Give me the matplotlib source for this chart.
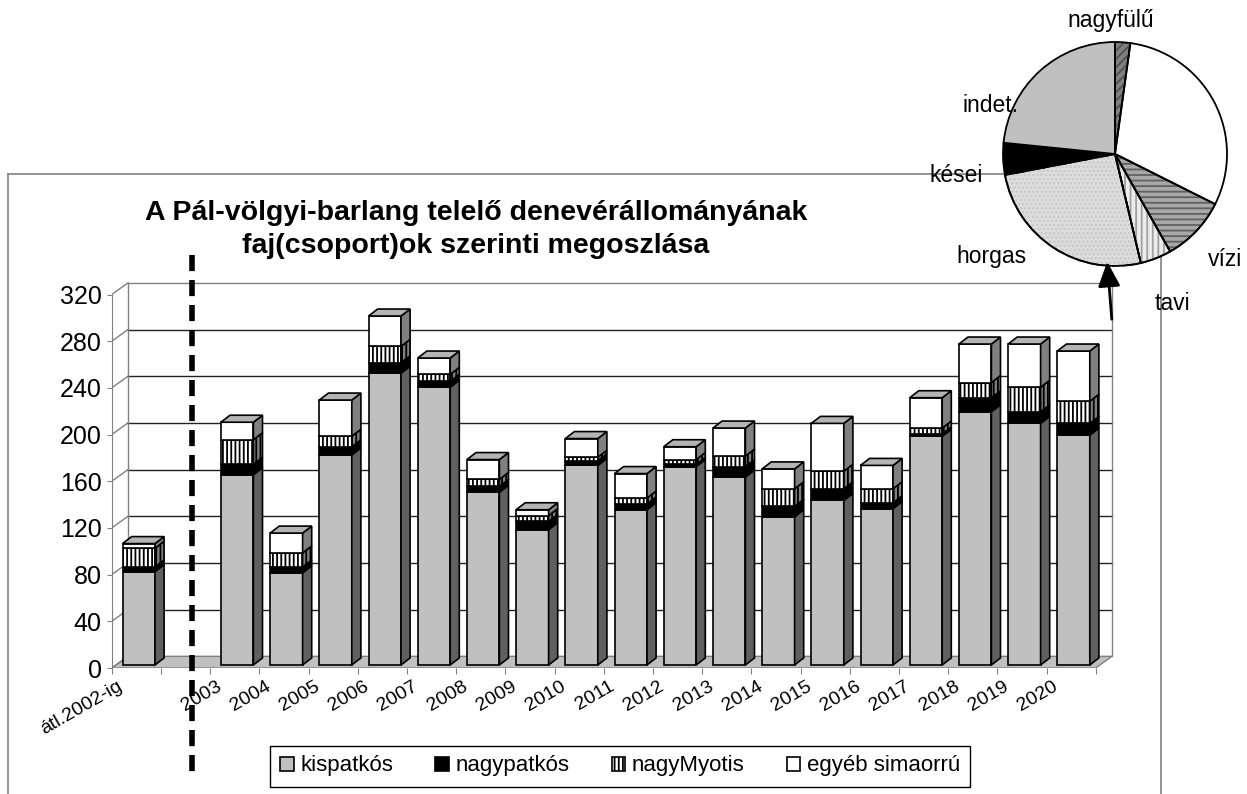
import matplotlib.pyplot as plt
import matplotlib.transforms as mtransforms
from matplotlib.patches import Polygon, Wedge, FancyArrowPatch
from matplotlib.lines import Line2D

plt.rcParams['font.family'] = ['Liberation Sans', 'DejaVu Sans']
plt.rcParams['hatch.linewidth'] = 1.3

# adatok (leolvasva az abrarol)
categories = ['átl.2002-ig', '2003', '2004', '2005', '2006', '2007', '2008', '2009',
              '2010', '2011', '2012', '2013', '2014', '2015', '2016', '2017',
              '2018', '2019', '2020']
kispatkos = [80, 163, 79, 180, 250, 238, 148, 116, 171, 133, 170, 161, 127, 141, 134, 196, 217, 207, 197]
nagypatkos = [4, 9, 5, 7, 9, 5, 5, 7, 4, 5, 2, 9, 9, 10, 5, 2, 12, 10, 10]
nagymyotis = [16, 21, 12, 9, 14, 6, 6, 5, 3, 5, 4, 9, 15, 15, 12, 5, 13, 21, 19]
egyeb = [4, 15, 17, 31, 26, 14, 17, 5, 16, 21, 11, 24, 17, 41, 20, 26, 33, 37, 43]
series_names = ['kispatkós', 'nagypatkós', 'nagyMyotis', 'egyéb simaorrú']
yticks = list(range(0, 321, 40))

pie_labels = ['nagyfülű', '', 'vízi', 'tavi', 'horgas', 'kései', 'indet.']
pie_values = [2.2, 30.2, 9.4, 4.5, 25.7, 4.6, 23.4]

W, H = 1247, 794
fig = plt.figure(figsize=(W / 100, H / 100), dpi=100)


def fx(x):
    return x / W


def fy(y):
    return 1 - y / H


# fo diagram: (0,0) a bal elso sarok
X0, Y0 = 111.7, 668
SX, SY = 49.2, 1.167
XMAX, YMAX = 20.4, 331
ax = fig.add_axes([fx(X0), fy(Y0), XMAX * SX / W, YMAX * SY / H])
ax.set_xlim(0, XMAX)
ax.set_ylim(0, YMAX)
ax.patch.set_visible(False)
for s in ['top', 'right', 'bottom']:
    ax.spines[s].set_visible(False)
ax.spines['left'].set_bounds(0, 320)
ax.spines['left'].set_color('#808080')
ax.set_yticks(yticks)
ax.tick_params(axis='y', labelsize=18, length=3.6, color='#808080', pad=3.6)
ax.set_xticks(range(0, 21))
ax.set_xticklabels([])
ax.tick_params(axis='x', length=4.3, color='#808080')

# hatfal es padlo
WDX, WDY = 0.33, 10
ax.add_patch(Polygon([(0, 0), (20, 0), (20 + WDX, WDY), (WDX, WDY)], closed=True,
                     fc='#c0c0c0', ec='#808080', lw=1, zorder=0.4))
for v in yticks:
    ax.plot([0, WDX], [v, v + WDY], color='#808080', lw=1, zorder=0.5)
    if v > 0:
        c = '#808080' if v == 320 else '#222222'
        ax.plot([WDX, 20 + WDX], [v + WDY, v + WDY], color=c, lw=1, zorder=0.5)
ax.plot([WDX, WDX], [WDY, 320 + WDY], color='#808080', lw=1, zorder=0.5)
ax.plot([20 + WDX, 20 + WDX], [WDY, 320 + WDY], color='#808080', lw=1, zorder=0.5)

# oszlopok
pos = [0] + list(range(2, 20))
BW, BDX, BDY, BASE = 0.66, 0.185, 6, 2.6
x_left = [p + 0.22 for p in pos]
styles = [('#c0c0c0', None, '#606060'), ('black', None, 'black'),
          ('white', '||||', '#808080'), ('white', None, '#808080')]
bottom = [BASE] * len(categories)
handles = []
for vals, name, (fc, hatch, side) in zip([kispatkos, nagypatkos, nagymyotis, egyeb], series_names, styles):
    bars = ax.bar(x_left, vals, width=BW, bottom=bottom, align='edge', color=fc,
                  hatch=hatch, edgecolor='black', lw=1.2, zorder=3, label=name)
    handles.append(bars)
    for xl, b, v in zip(x_left, bottom, vals):
        xr = xl + BW
        ax.add_patch(Polygon([(xr, b), (xr + BDX, b + BDY), (xr + BDX, b + v + BDY), (xr, b + v)],
                             closed=True, fc=side, hatch=hatch, ec='black', lw=1.2, zorder=3))
    bottom = [b + v for b, v in zip(bottom, vals)]
for xl, t in zip(x_left, bottom):
    ax.add_patch(Polygon([(xl, t), (xl + BW, t), (xl + BW + BDX, t + BDY), (xl + BDX, t + BDY)],
                         closed=True, fc='#b4b4b4', ec='black', lw=1.2, zorder=3))

# x feliratok
off = mtransforms.ScaledTranslation(-0.19, -0.10, fig.dpi_scale_trans)
for p, lab in zip(pos, categories):
    ax.text(p + 0.5, 0, lab, transform=ax.transData + off, rotation=30,
            rotation_mode='anchor', ha='right', va='top', fontsize=14, clip_on=False)

# cim
fig.text(fx(476), fy(213), 'A Pál-völgyi-barlang telelő denevérállományának',
         ha='center', va='center', fontsize=20.5, fontweight='bold')
fig.text(fx(476), fy(246), 'faj(csoport)ok szerinti megoszlása',
         ha='center', va='center', fontsize=20.5, fontweight='bold')

# jelmagyarazat
leg = fig.legend(handles=handles, labels=series_names, loc='center',
                 bbox_to_anchor=(fx(620), fy(766)), ncol=4, fontsize=16,
                 frameon=True, fancybox=False, edgecolor='black', framealpha=1,
                 handlelength=0.6, handleheight=0.6, handletextpad=0.3,
                 columnspacing=1.9, borderpad=0.45)
leg.get_frame().set_linewidth(1)

# diagram kerete
for xs, ys in [([8, 8], [794, 174]), ([8, 1161], [174, 174]), ([1161, 1161], [174, 794])]:
    fig.add_artist(Line2D([fx(x) for x in xs], [fy(y) for y in ys], transform=fig.transFigure,
                          color='#808080', lw=1.2, zorder=1))

# szaggatott vonal
fig.add_artist(Line2D([fx(191.7), fx(191.7)], [fy(255), fy(775)], transform=fig.transFigure,
                      color='black', lw=4, linestyle=(0, (2.9, 1.6)), zorder=5))

# kordiagram
R = 112
pax = fig.add_axes([fx(1115 - R), fy(154 + R), 2 * R / W, 2 * R / H])
pax.set_zorder(6)
pie_colors = ['#808080', 'white', '#a8a8a8', '#ececec', '#dedede', 'black', '#c0c0c0']
pie_hatch = ['////', None, '---', '|||', '....', None, None]
pie_hcol = ['#505050', None, '#606060', '#a0a0a0', '#c8c8c8', None, None]
wedges, _ = pax.pie(pie_values, startangle=90, counterclock=False, colors=pie_colors,
                    wedgeprops=dict(edgecolor='black', linewidth=1.3))
for w, h, hc in zip(wedges, pie_hatch, pie_hcol):
    if h:
        pax.add_patch(Wedge(w.center, w.r, w.theta1, w.theta2, fc='none', ec=hc,
                            lw=0, hatch=h, zorder=w.get_zorder() + 0.1))
        pax.add_patch(Wedge(w.center, w.r, w.theta1, w.theta2, fc='none', ec='black',
                            lw=1.3, zorder=w.get_zorder() + 0.2))
pax.set_xlim(-1, 1)
pax.set_ylim(-1, 1)

pie_text_pos = {'nagyfülű': (1111, 20), 'indet.': (990, 106), 'kései': (956, 176),
                'horgas': (991, 257), 'vízi': (1225, 259), 'tavi': (1172, 304)}
for lab in pie_labels:
    if lab:
        x, y = pie_text_pos[lab]
        fig.text(fx(x), fy(y), lab, ha='center', va='center', fontsize=16.5, zorder=7)

fig.add_artist(FancyArrowPatch((fx(1112), fy(322)), (fx(1107), fy(259)), transform=fig.transFigure,
                               arrowstyle='-|>,head_length=1.0,head_width=0.45', mutation_scale=15,
                               color='black', lw=2, zorder=8))

fig.savefig('out.png', dpi=100)
